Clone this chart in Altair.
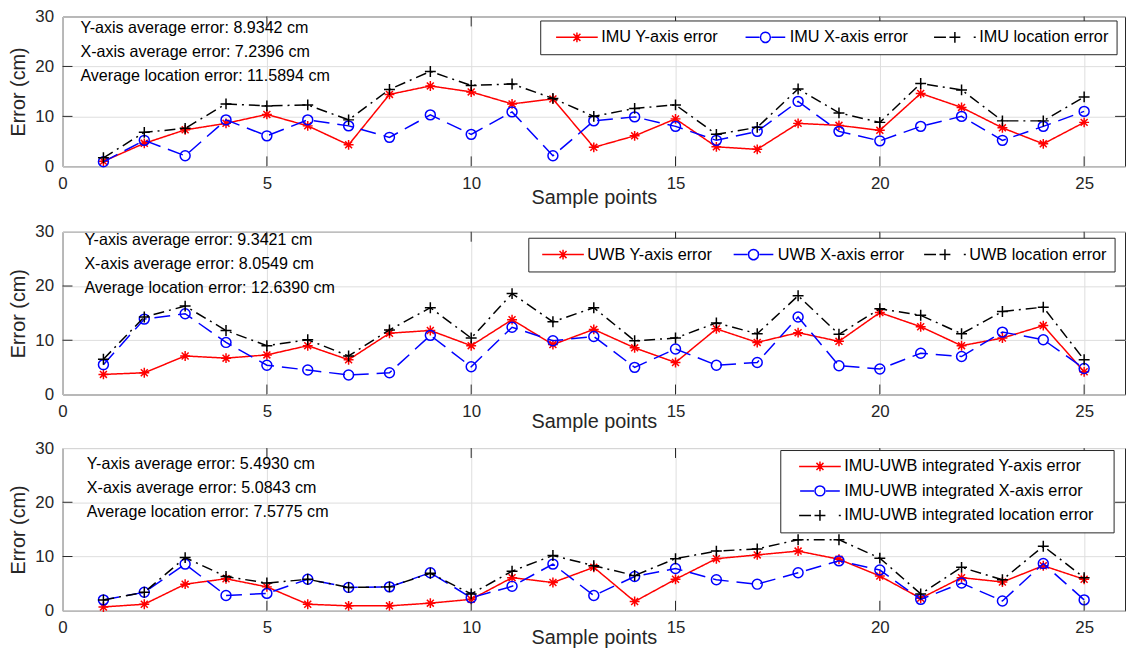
import altair as alt
import pandas as pd

# ---------------- data ----------------
samples = list(range(1, 26))

imu_y = [1.0, 4.6, 7.3, 8.6, 10.4, 8.1, 4.3, 14.4, 16.1, 14.9, 12.5, 13.5, 3.8,
         6.1, 9.5, 3.9, 3.4, 8.6, 8.2, 7.2, 14.6, 11.8, 7.7, 4.5, 8.8]
imu_x = [0.9, 5.2, 2.1, 9.3, 6.1, 9.3, 8.1, 5.8, 10.3, 6.4, 10.9, 2.1, 9.1,
         9.9, 8.0, 5.2, 7.0, 13.0, 7.0, 5.1, 8.0, 10.0, 5.2, 8.0, 11.0]
imu_loc = [1.7, 6.8, 7.6, 12.5, 12.1, 12.3, 9.3, 15.4, 19.0, 16.2, 16.5, 13.6, 10.0,
           11.6, 12.3, 6.4, 7.8, 15.5, 10.7, 8.8, 16.6, 15.3, 9.1, 9.1, 13.9]

uwb_y = [3.7, 4.0, 7.1, 6.7, 7.3, 9.0, 6.4, 11.3, 11.8, 9.0, 13.8, 9.2, 12.0,
         8.6, 5.9, 12.1, 9.6, 11.4, 9.8, 15.1, 12.5, 9.0, 10.4, 12.7, 4.2]
uwb_x = [5.5, 13.9, 14.9, 9.6, 5.4, 4.5, 3.6, 4.0, 10.9, 5.1, 12.4, 9.9, 10.7,
         5.0, 8.4, 5.4, 5.9, 14.3, 5.3, 4.7, 7.6, 7.0, 11.5, 10.1, 4.8]
uwb_loc = [6.5, 14.3, 16.3, 11.8, 9.0, 10.1, 7.1, 11.9, 16.0, 10.4, 18.6, 13.4, 16.0,
           9.9, 10.4, 13.2, 11.2, 18.2, 11.1, 15.8, 14.6, 11.2, 15.3, 16.1, 6.4]

fus_y = [0.7, 1.2, 4.9, 5.9, 4.4, 1.2, 0.9, 0.9, 1.4, 2.1, 6.1, 5.2, 8.0,
         1.7, 5.8, 9.6, 10.3, 11.0, 9.5, 6.4, 2.3, 6.1, 5.3, 8.3, 5.8]
fus_x = [2.0, 3.4, 8.6, 2.8, 3.2, 5.8, 4.3, 4.4, 7.0, 2.4, 4.5, 8.6, 2.8,
         6.3, 7.8, 5.7, 4.9, 7.0, 9.2, 7.5, 2.1, 5.1, 1.8, 8.7, 2.0]
fus_loc = [2.0, 3.4, 9.8, 6.3, 5.1, 5.8, 4.3, 4.4, 6.9, 3.1, 7.3, 10.2, 8.3,
           6.5, 9.6, 11.0, 11.4, 13.1, 13.1, 9.7, 3.1, 8.0, 5.7, 11.9, 6.1]

imu_names = ["IMU Y-axis error", "IMU X-axis error", "IMU location error"]
uwb_names = ["UWB Y-axis error", "UWB X-axis error", "UWB location error"]
fus_names = ["IMU-UWB integrated Y-axis error", "IMU-UWB integrated X-axis error",
             "IMU-UWB integrated location error"]

imu_stats = ["Y-axis average error: 8.9342 cm", "X-axis average error: 7.2396 cm",
             "Average location error: 11.5894 cm"]
uwb_stats = ["Y-axis average error: 9.3421 cm", "X-axis average error: 8.0549 cm",
             "Average location error: 12.6390 cm"]
fus_stats = ["Y-axis average error: 5.4930 cm", "X-axis average error: 5.0843 cm",
             "Average location error: 7.5775 cm"]

x_tick_values = [0, 5, 10, 15, 20, 25]
y_tick_values = [0, 10, 20, 30]
x_inner_ticks = [5, 10, 15, 20, 25]
y_inner_ticks = [10, 20]

# ---------------- style ----------------
FONT = "Liberation Sans"
AX = "#262626"
GRID = "#dedede"
W = 1071
COLORS = ["#ff0000", "#0000ff", "#000000"]
DASHES = [[1, 0], [16, 8], [11, 5, 2, 5]]
STAR = "M-1,0L1,0M0,-1L0,1M-0.7,-0.7L0.7,0.7M-0.7,0.7L0.7,-0.7"
PLUS = "M-1,0L1,0M0,-1L0,1"
SHAPES = [STAR, "circle", PLUS]
SIZES = [100, 100, 121]
PAD_CHAR = "\u2800"  # blank glyph (not trimmed) used to widen legend box


def fmt(v):
    s = f"{v:.4f}".rstrip("0").rstrip(".")
    return "0" if s in ("-0", "") else s


def legend_paths(E, L=42.0, r=5.0):
    Wp = E + L
    h = Wp / 2.0
    u = lambda px: fmt((px - h) / h)
    v = lambda dy: fmt(dy / h)
    c = E + L / 2.0
    d = r * 0.707
    red = (f"M{u(E)},0L{u(E + L)},0"
           f"M{u(c - r)},0L{u(c + r)},0M{u(c)},{v(-r)}L{u(c)},{v(r)}"
           f"M{u(c - d)},{v(-d)}L{u(c + d)},{v(d)}M{u(c - d)},{v(d)}L{u(c + d)},{v(-d)}")
    blue = (f"M{u(E + 1)},0L{u(E + 15)},0M{u(E + L - 15)},0L{u(E + L - 1)},0"
            f"M{u(c + r)},0A{v(r)},{v(r)} 0 1,1 {u(c - r)},0"
            f"A{v(r)},{v(r)} 0 1,1 {u(c + r)},0")
    rp = 5.5
    black = (f"M{u(E)},0L{u(E + 12)},0"
             f"M{u(c - rp)},0L{u(c + rp)},0M{u(c)},{v(-rp)}L{u(c)},{v(rp)}"
             f"M{u(E + L - 2)},0L{u(E + L)},0")
    return [red, blue, black], Wp * Wp


def panel(series, names, stats, height, cfg):
    X = alt.X("sample:Q", title="Sample points",
              scale=alt.Scale(domain=[0, 26], nice=False, zero=False),
              axis=alt.Axis(values=x_tick_values, format="d", labelFlush=False,
                            labelOverlap=False, labelPadding=9,
                            titleY=cfg["title_y"], titleBaseline="middle"))
    Y = alt.Y("error:Q", title="Error (cm)",
              scale=alt.Scale(domain=[0, 30], nice=False, zero=False),
              axis=alt.Axis(values=y_tick_values, labelPadding=9, titlePadding=6))

    layers = []
    for vals, name, col, dash, shp, sz in zip(series, names, COLORS, DASHES, SHAPES, SIZES):
        df = pd.DataFrame({"sample": samples, "error": vals, "series": name})
        base = alt.Chart(df)
        layers.append(base.mark_line(color=col, strokeWidth=1.5, strokeDash=dash)
                      .encode(x=X, y=Y))
        layers.append(base.mark_point(shape=shp, filled=False, stroke=col,
                                      strokeWidth=1.5, size=sz, opacity=1)
                      .encode(x=X, y=Y))

    # inward ticks on all four sides
    xt = pd.DataFrame({"sample": x_inner_ticks})
    yt = pd.DataFrame({"error": y_inner_ticks})
    layers.append(alt.Chart(xt).mark_rule(color=AX, strokeWidth=1).encode(
        x=X, y=alt.value(height), y2=alt.value(height - 10)))
    layers.append(alt.Chart(xt).mark_rule(color=AX, strokeWidth=1).encode(
        x=X, y=alt.value(0), y2=alt.value(10)))
    layers.append(alt.Chart(yt).mark_rule(color=AX, strokeWidth=1).encode(
        y=Y, x=alt.value(0), x2=alt.value(10)))
    layers.append(alt.Chart(yt).mark_rule(color=AX, strokeWidth=1).encode(
        y=Y, x=alt.value(W), x2=alt.value(W - 10)))

    # statistics text
    tdf = pd.DataFrame({"txt": ["\n".join(stats)]})
    layers.append(alt.Chart(tdf).mark_text(
        align="left", baseline="top", lineBreak="\n", lineHeight=cfg["line_h"],
        font=FONT, fontSize=16.2, color="#000000").encode(
        text="txt:N", x=alt.value(cfg["tx"]), y=alt.value(cfg["ty"])))

    # legend (symbols drawn as line + marker paths)
    paths, ssize = legend_paths(cfg["E"])
    ldf = pd.DataFrame({"sample": samples[:3], "error": [0, 0, 0], "series": names})
    leg_kwargs = dict(
        title=None, orient="none", legendX=cfg["lx"], legendY=cfg["ly"],
        direction=cfg["dir"], columns=cfg["cols"], columnPadding=cfg["colpad"],
        rowPadding=cfg["rowpad"], clipHeight=cfg["clip"], padding=8,
        fillColor="#ffffff", strokeColor=AX, cornerRadius=0,
        symbolSize=ssize, symbolStrokeWidth=1.5, symbolOpacity=1,
        labelFont=FONT, labelFontSize=16.4, labelColor="#000000",
        labelOffset=2.5, labelLimit=400)
    if cfg["pad"] > 0:
        leg_kwargs["labelExpr"] = "datum.label + '" + PAD_CHAR * cfg["pad"] + "'"
    leg = alt.Legend(**leg_kwargs)
    layers.append(alt.Chart(ldf).transform_filter("false").mark_point(
        filled=False, strokeWidth=1.5, opacity=1, size=ssize).encode(
        x=X, y=Y,
        color=alt.Color("series:N", scale=alt.Scale(domain=names, range=COLORS), legend=leg),
        shape=alt.Shape("series:N", scale=alt.Scale(domain=names, range=paths), legend=leg)))

    return alt.layer(*layers).properties(width=W, height=height)


p1 = panel([imu_y, imu_x, imu_loc], imu_names, imu_stats, 151,
           dict(title_y=31, line_h=24.2, tx=18, ty=3.5, E=7, lx=481.5, ly=4,
                dir="horizontal", cols=3, colpad=18, rowpad=0, clip=18, pad=0))
p2 = panel([uwb_y, uwb_x, uwb_loc], uwb_names, uwb_stats, 164,
           dict(title_y=27, line_h=24.1, tx=22, ty=0.8, E=5, lx=469.5, ly=6,
                dir="horizontal", cols=3, colpad=14, rowpad=0, clip=18, pad=0))
p3 = panel([fus_y, fus_x, fus_loc], fus_names, fus_stats, 164,
           dict(title_y=27, line_h=24.4, tx=24.5, ty=8, E=10, lx=723.5, ly=2,
                dir="vertical", cols=1, colpad=0, rowpad=7.7, clip=17, pad=1))

inner = alt.vconcat(p2, p3, spacing=6).resolve_scale(
    color="independent", shape="independent")
chart = alt.vconcat(p1, inner, spacing=14).resolve_scale(
    color="independent", shape="independent"
).properties(
    padding={"top": -4, "left": 0, "right": 0, "bottom": 0}, background="#ffffff"
).configure_view(
    stroke=AX, strokeWidth=1
).configure_axis(
    domain=False, ticks=False, grid=True, gridColor=GRID, gridWidth=1,
    labelFont=FONT, labelFontSize=17, labelColor=AX,
    titleFont=FONT, titleFontSize=20, titleFontWeight="normal", titleColor=AX
)

chart.save("out.html", embed_options={"renderer": "svg", "actions": False})
